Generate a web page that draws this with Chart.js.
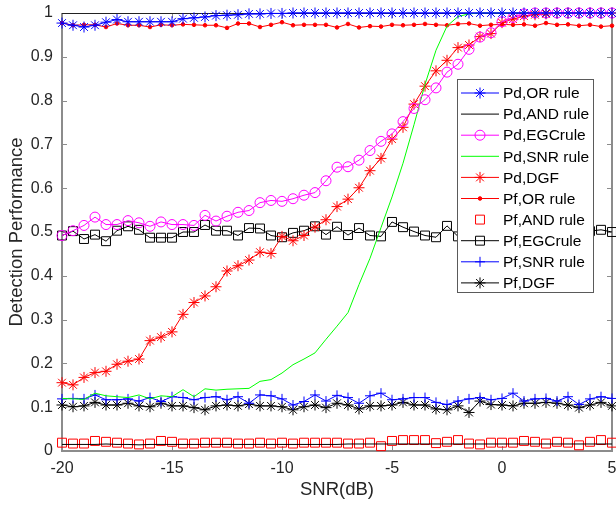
<!DOCTYPE html>
<html>
<head>
<meta charset="utf-8">
<script src="https://cdn.jsdelivr.net/npm/chart.js@4/dist/chart.umd.min.js"></script>
<style>
  html, body { margin: 0; padding: 0; background: #fff; overflow: hidden; }
  #wrap { width: 630px; height: 506px; }
</style>
</head>
<body>
<div id="wrap"><canvas id="myChart"></canvas></div>
<script>
// SNR axis, -20 dB to 5 dB in 0.5 dB steps
const snr = [-20,-19.5,-19,-18.5,-18,-17.5,-17,-16.5,-16,-15.5,-15,-14.5,-14,-13.5,-13,-12.5,-12,-11.5,-11,-10.5,
  -10,-9.5,-9,-8.5,-8,-7.5,-7,-6.5,-6,-5.5,-5,-4.5,-4,-3.5,-3,-2.5,-2,-1.5,-1,-0.5,
  0,0.5,1,1.5,2,2.5,3,3.5,4,4.5,5];

const pdOr = [.977,.972,.968,.972,.979,.985,.980,.980,.980,.980,.980,.987,.989,.991,.994,.995,.996,.998,.998,.999,
  .999,1,1,1,1,1,1,1,1,1,1,1,1,1,1,1,1,1,1,1,
  1,1,1,1,1,1,1,1,1,1,1];
const pdAnd = [.015,.015,.015,.015,.016,.015,.015,.014,.015,.015,.015,.015,.015,.015,.015,.015,.015,.015,.015,.015,
  .015,.015,.015,.015,.015,.015,.016,.016,.016,.016,.016,.016,.016,.016,.016,.016,.016,.016,.016,.016,
  .016,.016,.016,.016,.016,.016,.016,.016,.016,.016,.016];
const pdEgc = [.492,.503,.515,.534,.517,.517,.526,.521,.513,.523,.517,.517,.515,.538,.525,.536,.545,.549,.567,.572,
  .570,.576,.584,.590,.617,.648,.649,.664,.686,.707,.724,.752,.782,.802,.829,.865,.883,.917,.945,.955,
  .980,.990,.998,1,1,1,1,1,1,1,1];
const pdSnr = [.120,.119,.118,.132,.126,.124,.122,.128,.119,.126,.124,.140,.124,.142,.139,.141,.142,.143,.159,.163,
  .178,.197,.210,.224,.255,.285,.316,.380,.440,.510,.580,.657,.745,.837,.915,.970,.992,.998,1,1,
  1,1,1,1,1,1,1,1,1,1,1];
const pdDgf = [.156,.151,.168,.179,.182,.198,.205,.210,.252,.260,.272,.312,.339,.354,.375,.411,.423,.436,.454,.451,
  .490,.480,.492,.511,.528,.558,.575,.601,.640,.668,.712,.739,.792,.833,.868,.892,.921,.927,.946,.953,
  .978,.986,.993,.996,.998,1,1,1,1,1,1];
const pfOr = [.977,.972,.973,.973,.968,.976,.972,.972,.968,.973,.972,.974,.973,.972,.972,.966,.976,.976,.968,.973,
  .979,.972,.973,.973,.973,.967,.975,.967,.970,.969,.973,.972,.973,.975,.973,.972,.975,.976,.971,.973,
  .974,.973,.974,.971,.977,.973,.974,.971,.973,.969,.971];
const pfAnd = [.019,.017,.017,.023,.021,.019,.017,.015,.017,.023,.021,.017,.017,.019,.019,.019,.017,.017,.019,.017,
  .019,.017,.019,.019,.019,.019,.017,.017,.019,.011,.023,.025,.025,.025,.018,.021,.025,.017,.015,.019,
  .019,.019,.023,.021,.017,.021,.019,.013,.021,.025,.019];
const pfEgc = [.492,.502,.484,.494,.479,.503,.513,.505,.487,.487,.487,.500,.500,.516,.503,.503,.492,.509,.508,.492,
  .488,.498,.503,.513,.494,.512,.493,.509,.492,.490,.523,.511,.501,.492,.488,.514,.490,.497,.505,.493,
  .501,.508,.495,.503,.498,.491,.506,.499,.502,.505,.500];
const pfSnr = [.119,.120,.119,.128,.117,.117,.119,.114,.122,.113,.124,.122,.117,.122,.124,.117,.124,.109,.128,.126,
  .119,.105,.113,.128,.114,.127,.122,.109,.126,.132,.117,.119,.122,.122,.111,.106,.114,.119,.122,.117,
  .120,.132,.114,.119,.120,.114,.124,.106,.119,.124,.120];
const pfDgf = [.105,.101,.103,.111,.105,.105,.109,.103,.101,.109,.103,.103,.099,.094,.103,.105,.103,.107,.103,.103,
  .101,.094,.101,.105,.099,.109,.105,.096,.103,.103,.105,.111,.105,.105,.096,.094,.103,.088,.114,.106,
  .105,.103,.109,.109,.111,.109,.105,.099,.105,.111,.103];

const xTicks = [-20, -15, -10, -5, 0, 5];
const yTicks = [0, 0.1, 0.2, 0.3, 0.4, 0.5, 0.6, 0.7, 0.8, 0.9, 1];

const pts = arr => snr.map((x, i) => ({ x, y: arr[i] }));

function series(label, arr, color, style, radius, showLine = true) {
  return {
    label,
    data: pts(arr),
    borderColor: color,
    backgroundColor: color,
    borderWidth: 1,
    showLine,
    pointStyle: style === 'none' ? false : style,
    pointRadius: style === 'none' ? 0 : radius,
    pointBorderColor: color,
    pointBackgroundColor: 'rgba(0,0,0,0)',
    pointBorderWidth: 1,
    tension: 0,
    clip: false
  };
}

const datasets = [
  series('Pd,OR rule', pdOr, '#0000ff', 'star', 5.5),
  series('Pd,AND rule', pdAnd, '#000000', 'none', 0),
  series('Pd,EGCrule', pdEgc, '#ff00ff', 'circle', 5),
  series('Pd,SNR rule', pdSnr, '#00ff00', 'none', 0),
  series('Pd,DGF', pdDgf, '#ff0000', 'star', 5.5),
  series('Pf,OR rule', pfOr, '#ff0000', 'circle', 1.8),
  series('Pf,AND rule', pfAnd, '#ff0000', 'rect', 6.3, false),
  series('Pf,EGCrule', pfEgc, '#000000', 'rect', 6.3),
  series('Pf,SNR rule', pfSnr, '#0000ff', 'cross', 5),
  series('Pf,DGF', pfDgf, '#000000', 'star', 5.5)
];
// small filled dots for Pf,OR rule
datasets[5].pointBackgroundColor = '#ff0000';

const axisGray = '#8c8c8c';
const textColor = '#262626';

// box around the plot with inward tick marks
const framePlugin = {
  id: 'frame',
  beforeDatasetsDraw(chart) {
    const { ctx, chartArea: a, scales } = chart;
    ctx.save();
    ctx.strokeStyle = axisGray;
    ctx.lineWidth = 1;
    const tl = 5;
    yTicks.forEach(v => {
      const y = Math.round(scales.y.getPixelForValue(v)) + 0.5;
      ctx.beginPath();
      ctx.moveTo(a.left, y); ctx.lineTo(a.left + tl, y);
      ctx.moveTo(a.right, y); ctx.lineTo(a.right - tl, y);
      ctx.stroke();
    });
    xTicks.forEach(v => {
      const x = Math.round(scales.x.getPixelForValue(v)) + 0.5;
      ctx.beginPath();
      ctx.moveTo(x, a.bottom); ctx.lineTo(x, a.bottom - tl);
      ctx.moveTo(x, a.top); ctx.lineTo(x, a.top + tl);
      ctx.stroke();
    });
    ctx.lineWidth = 2;
    ctx.beginPath();
    ctx.moveTo(a.left, a.top); ctx.lineTo(a.left, a.bottom);
    ctx.lineTo(a.right, a.bottom); ctx.lineTo(a.right, a.top);
    ctx.stroke();
    ctx.strokeStyle = '#222';
    ctx.lineWidth = 1;
    ctx.beginPath();
    ctx.moveTo(a.left, a.top + 0.5); ctx.lineTo(a.right, a.top + 0.5);
    ctx.stroke();
    ctx.restore();
  }
};

// legend box inside the plot, upper right
const boxLegend = {
  id: 'boxLegend',
  afterDatasetsDraw(chart) {
    const { ctx } = chart;
    const left = 457, top = 79, right = 593, bottom = 292;
    ctx.save();
    ctx.fillStyle = '#fff';
    ctx.fillRect(left, top, right - left, bottom - top);
    ctx.strokeStyle = '#5a5a5a';
    ctx.lineWidth = 1;
    ctx.strokeRect(left + 0.5, top + 0.5, right - left, bottom - top);
    ctx.font = '15.5px "Liberation Sans", Arial, sans-serif';
    ctx.textBaseline = 'middle';
    chart.data.datasets.forEach((ds, i) => {
      const y = 93 + i * 21.1;
      ctx.strokeStyle = ds.borderColor;
      ctx.lineWidth = 1;
      if (ds.showLine !== false) {
        ctx.beginPath();
        ctx.moveTo(461, y); ctx.lineTo(499, y);
        ctx.stroke();
      }
      if (ds.pointStyle) {
        ctx.fillStyle = ds.pointBackgroundColor;
        Chart.helpers.drawPoint(ctx, {
          pointStyle: ds.pointStyle,
          radius: ds.pointRadius,
          rotation: 0,
          borderWidth: 1
        }, 480, y);
      }
      ctx.fillStyle = '#000';
      ctx.fillText(ds.label, 503, y + 1);
    });
    ctx.restore();
  }
};

const ctx = document.getElementById('myChart').getContext('2d');
new Chart(ctx, {
  type: 'line',
  data: { datasets },
  options: {
    responsive: true,
    maintainAspectRatio: false,
    animation: false,
    layout: { padding: { top: 13, right: 18, left: 0, bottom: 0 } },
    plugins: { legend: { display: false }, tooltip: { enabled: false } },
    scales: {
      x: {
        type: 'linear',
        min: -20, max: 5,
        afterFit: s => { s.height = 55; },
        afterBuildTicks: s => { s.ticks = xTicks.map(value => ({ value })); },
        grid: { display: false, drawTicks: false },
        border: { display: false },
        ticks: {
          padding: 8,
          color: textColor,
          font: { family: '"Liberation Sans", Arial, sans-serif', size: 16 },
          callback: v => String(v)
        },
        title: {
          display: true, text: 'SNR(dB)', color: textColor,
          font: { family: '"Liberation Sans", Arial, sans-serif', size: 18.5 },
          padding: { top: 0, bottom: 5 }
        }
      },
      y: {
        type: 'linear',
        min: 0, max: 1,
        afterFit: s => { s.width = 62; s.paddingTop = 0; s.paddingBottom = 0; },
        afterBuildTicks: s => { s.ticks = yTicks.map(value => ({ value })); },
        grid: { display: false, drawTicks: false },
        border: { display: false },
        ticks: {
          padding: 9,
          color: textColor,
          font: { family: '"Liberation Sans", Arial, sans-serif', size: 16 },
          callback: v => String(Number(v.toFixed(1)))
        },
        title: {
          display: true, text: 'Detection Performance', color: textColor,
          font: { family: '"Liberation Sans", Arial, sans-serif', size: 18.5 },
          padding: { top: 6, bottom: 0 }
        }
      }
    }
  },
  plugins: [framePlugin, boxLegend]
});
</script>
</body>
</html>
